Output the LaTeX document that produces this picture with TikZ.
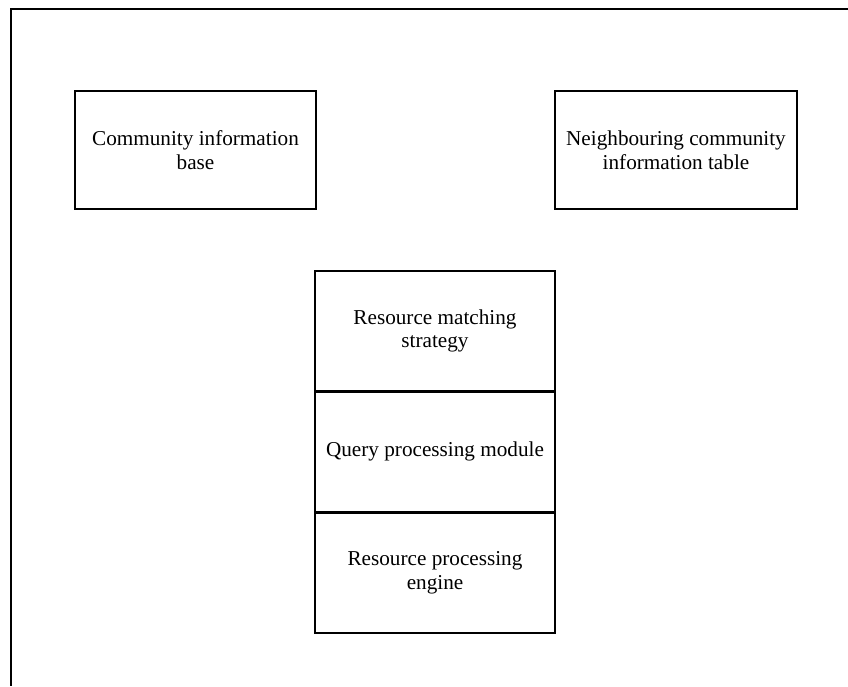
\documentclass[tikz,border=0pt]{standalone}
\usepackage{fontspec}
\setmainfont{Liberation Serif}
\usetikzlibrary{positioning}
\begin{document}
\begin{tikzpicture}[x=1pt,y=-1pt,line join=miter,
	every node/.style={font=\fontsize{21.2}{23.5}\selectfont,align=center},
	box/.style={draw,line width=1.6pt,inner sep=0pt,minimum width=240}]
	\useasboundingbox (0,0) rectangle (848,686);
	% open frame
	\draw[line width=2.6pt] (848,9) -- (11,9) -- (11,686);
	% top row
	\node[box,minimum width=241,minimum height=118] (comm) at (195.5,150) {Community information\\base};
	\node[box,minimum width=242,minimum height=118] (neigh) at (676,150) {Neighbouring community\\information table};
	% stacked modules
	\node[box,minimum height=120,anchor=north] (match) at (435,270) {Resource matching\\strategy};
	\node[box,minimum height=119,below=0pt of match] (query) {Query processing module};
	\node[box,minimum height=120,below=0pt of query] (engine) {Resource processing\\engine};
\end{tikzpicture}
\end{document}
